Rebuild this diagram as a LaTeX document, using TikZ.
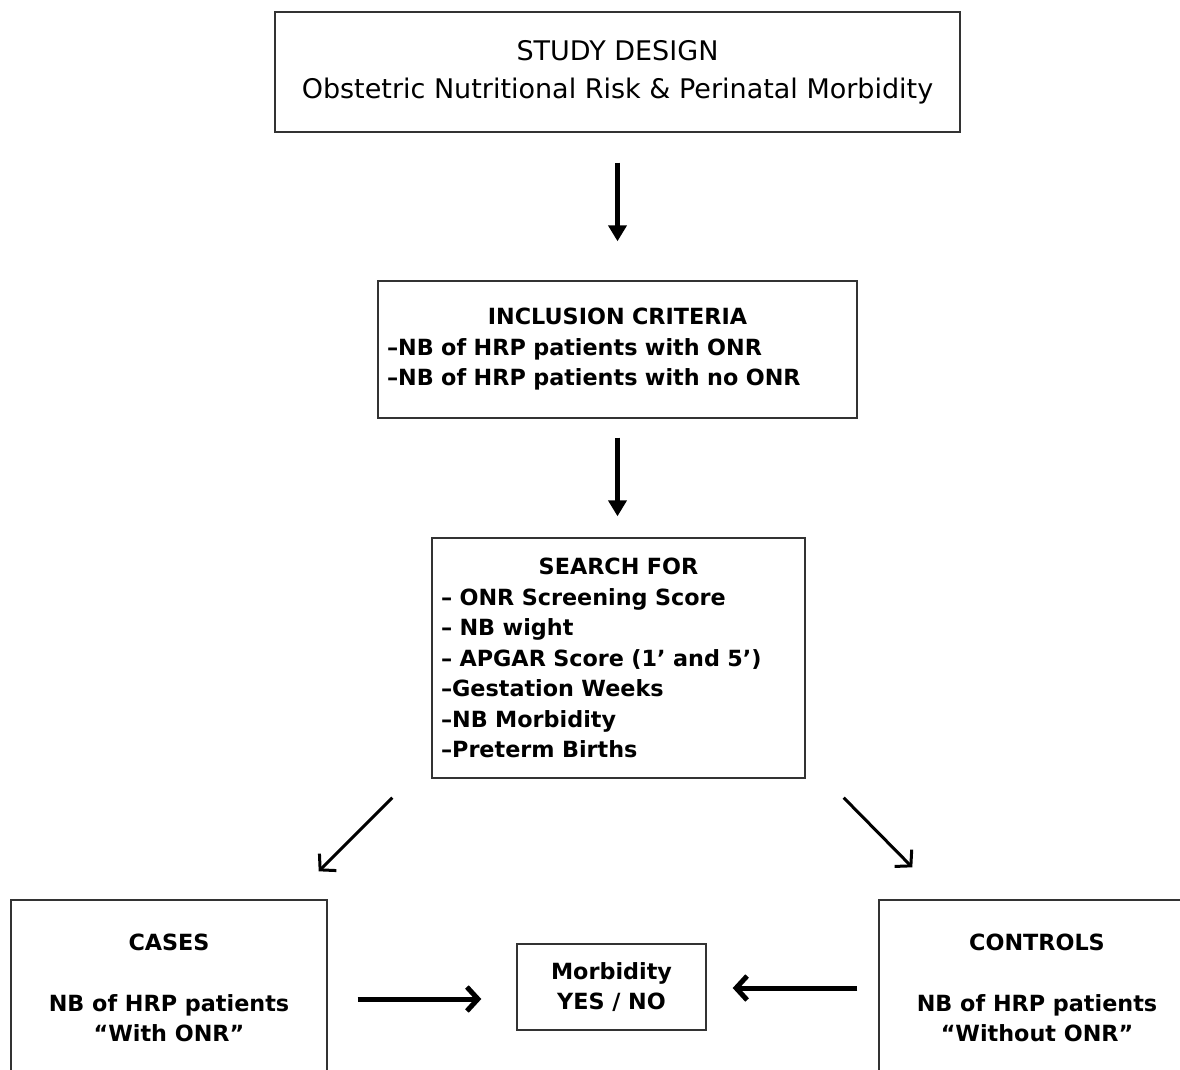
\documentclass[tikz,border=0pt]{standalone}
\usepackage{fontspec}
\setmainfont{DejaVu Sans}
\usepackage{xcolor}
\usetikzlibrary{positioning,arrows.meta,calc}
\definecolor{boxDraw}{HTML}{333333}
\definecolor{arrowCol}{HTML}{000000}

\begin{document}
\begin{tikzpicture}[
  x=1pt, y=-1pt,
  font=\fontsize{22.3}{30.5}\selectfont\bfseries,
  box/.style={draw=boxDraw, line width=1.4pt, align=center, inner sep=0pt},
  listbox/.style={box, align=left},
  down/.style={-{Triangle[length=16pt,width=18pt]}, line width=5pt, draw=arrowCol},
  side/.style={-{Straight Barb[length=11pt,width=24pt]}, line width=5pt, draw=arrowCol},
  split/.style={-{Straight Barb[length=11pt,width=24pt]}, line width=3pt, draw=arrowCol},
]
\useasboundingbox (0,0) rectangle (1180,1070);
\clip (0,0) rectangle (1180,1070);

% ---- Columna central ----
\node[box, minimum width=685, minimum height=120,
      font=\fontsize{27}{38}\selectfont] (design) at (617.5,72)
      {STUDY DESIGN\\Obstetric Nutritional Risk \& Perinatal Morbidity};
\node[listbox, minimum width=479, minimum height=137, text width=461] (incl) at (617.5,349.5)
      {\makebox[\hsize][c]{INCLUSION CRITERIA}\\
       –NB of HRP patients with ONR\\
       –NB of HRP patients with no ONR};
\node[listbox, minimum width=373, minimum height=240, text width=355] (search) at (618.5,658)
      {\makebox[\hsize][c]{SEARCH FOR}\\
       – ONR Screening Score\\
       – NB wight\\
       – APGAR Score (1’ and 5’)\\
       –Gestation Weeks\\
       –NB Morbidity\\
       –Preterm Births};

% ---- Fila inferior ----
\node[box, minimum width=316, minimum height=176] (cases) at (169,988)
      {CASES\\[30.5pt]NB of HRP patients\\“With ONR”};
\node[box, minimum width=316, minimum height=176] (controls) at (1037,988)
      {CONTROLS\\[30.5pt]NB of HRP patients\\“Without ONR”};
\node[box, minimum width=189, minimum height=86] (morb) at (611.5,987)
      {Morbidity\\YES / NO};

% ---- Flechas ----
\draw[down, shorten <=30pt, shorten >=39pt] (design) -- (incl);
\draw[down, shorten <=19pt, shorten >=21pt] (incl.south) -- (incl.south |- search.north);
\draw[split] ([xshift=-39pt,yshift=-19pt]search.south west) -- ([xshift=-9pt,yshift=28pt]cases.north east);
\draw[split] ([xshift=38pt,yshift=-19pt]search.south east) -- ([xshift=34pt,yshift=32pt]controls.north west);
\draw[side] ([xshift=30pt,yshift=-12pt]cases.east |- morb.west) -- ([xshift=-35pt,yshift=-12pt]morb.west);
\draw[side] ([xshift=-21pt,yshift=-1pt]controls.west |- morb.east) -- ([xshift=26pt,yshift=-1pt]morb.east);

\end{tikzpicture}
\end{document}
